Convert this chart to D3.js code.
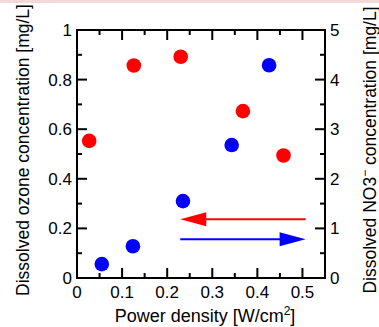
<!DOCTYPE html>
<html>
<head>
<meta charset="utf-8">
<script src="https://cdn.jsdelivr.net/npm/d3@7"></script>
<style>
  body { margin: 0; background: #fff; }
  svg { display: block; font-family: "Liberation Sans", Arial, sans-serif; }
</style>
</head>
<body>
<div id="chart"></div>
<script>
const width = 379;
const height = 327;

// ozone (left axis, mg/L) vs power density
const ozonePower = [0.027, 0.126, 0.230, 0.368, 0.458];
const ozoneConc = [0.553, 0.857, 0.892, 0.673, 0.494];
// NO3- (right axis, mg/L) vs power density
const no3Power = [0.055, 0.124, 0.235, 0.343, 0.426];
const no3Conc = [0.28, 0.64, 1.55, 2.68, 4.29];

const xTicks = [0, 0.1, 0.2, 0.3, 0.4, 0.5];
const yLeftTicks = [0, 0.2, 0.4, 0.6, 0.8, 1];
const yRightTicks = [0, 1, 2, 3, 4, 5];

// arrows: [fromX, toX, y on left axis]
const redArrow = [0.507, 0.229, 0.237];
const blueArrow = [0.229, 0.507, 0.156];

const margin = { top: 30, right: 54, bottom: 49, left: 77 };

const svg = d3.select("#chart").append("svg")
    .attr("width", width)
    .attr("height", height);

// thin pink strip along the top edge
svg.append("rect")
    .attr("x", 0).attr("y", 0)
    .attr("width", width).attr("height", 3)
    .attr("fill", "#f2dada");

const x = d3.scaleLinear()
    .domain([0, 0.55])
    .range([margin.left, width - margin.right]);

const yL = d3.scaleLinear()
    .domain([0, 1])
    .range([height - margin.bottom, margin.top]);

const yR = d3.scaleLinear()
    .domain([0, 5])
    .range([height - margin.bottom, margin.top]);

const fontSize = 17;
const titleSize = 17.5;

// ticks (inward)
function tickLines(g, scale, major, minor, orient) {
    const len = 10, minorLen = 5;
    const all = [...major.map(v => [v, len]), ...minor.map(v => [v, minorLen])];
    all.forEach(([v, l]) => {
        const p = scale(v);
        if (orient === "bottom") g.append("line").attr("x1", p).attr("x2", p).attr("y1", yL(0)).attr("y2", yL(0) - l);
        if (orient === "top") g.append("line").attr("x1", p).attr("x2", p).attr("y1", yL(1)).attr("y2", yL(1) + l);
        if (orient === "left") g.append("line").attr("x1", x(0)).attr("x2", x(0) + l).attr("y1", p).attr("y2", p);
        if (orient === "right") g.append("line").attr("x1", x(0.55)).attr("x2", x(0.55) - l).attr("y1", p).attr("y2", p);
    });
}

const ticks = svg.append("g").attr("stroke", "#000").attr("stroke-width", 2);
tickLines(ticks, x, xTicks.slice(1), [0.05, 0.15, 0.25, 0.35, 0.45], "bottom");
tickLines(ticks, x, xTicks.slice(1), [0.05, 0.15, 0.25, 0.35, 0.45], "top");
tickLines(ticks, yL, yLeftTicks.slice(1, -1), [0.1, 0.3, 0.5, 0.7, 0.9], "left");
tickLines(ticks, yR, yRightTicks.slice(1, -1), [0.5, 1.5, 2.5, 3.5, 4.5], "right");

// frame
svg.append("rect")
    .attr("x", x(0)).attr("y", yL(1))
    .attr("width", x(0.55) - x(0))
    .attr("height", yL(0) - yL(1))
    .attr("fill", "none")
    .attr("stroke", "#000")
    .attr("stroke-width", 2);

// tick labels
svg.append("g").selectAll("text")
    .data(xTicks).join("text")
    .attr("x", d => x(d))
    .attr("y", yL(0) + 20)
    .attr("text-anchor", "middle")
    .attr("font-size", fontSize)
    .text(d => d3.format("")(d));

svg.append("g").selectAll("text")
    .data(yLeftTicks).join("text")
    .attr("x", x(0) - 5)
    .attr("y", d => yL(d) + 6)
    .attr("text-anchor", "end")
    .attr("font-size", fontSize)
    .text(d => d3.format("")(d));

svg.append("g").selectAll("text")
    .data(yRightTicks).join("text")
    .attr("x", x(0.55) + 5)
    .attr("y", d => yR(d) + 6)
    .attr("text-anchor", "start")
    .attr("font-size", fontSize)
    .text(d => d);

// axis titles
const xt = svg.append("text")
    .attr("x", (x(0) + x(0.55)) / 2 + 4)
    .attr("y", 322)
    .attr("text-anchor", "middle")
    .attr("font-size", 18)
    .text("Power density [W/cm");
xt.append("tspan").attr("font-size", 12).attr("dy", -7).text("2");
xt.append("tspan").attr("dy", 7).text("]");

svg.append("text")
    .attr("transform", `translate(29,150) rotate(-90)`)
    .attr("text-anchor", "middle")
    .attr("font-size", titleSize)
    .text("Dissolved ozone concentration [mg/L]");

const rt = svg.append("text")
    .attr("transform", `translate(376,150) rotate(-90)`)
    .attr("text-anchor", "middle")
    .attr("font-size", titleSize)
    .text("Dissolved NO3");
rt.append("tspan").attr("font-size", 12).attr("dy", -7).text("−");
rt.append("tspan").attr("dy", 7).text(" concentration [mg/L]");

// points
svg.append("g").selectAll("circle")
    .data(ozonePower.map((p, i) => [p, ozoneConc[i]]))
    .join("circle")
    .attr("cx", d => x(d[0]))
    .attr("cy", d => yL(d[1]))
    .attr("r", 7.3)
    .attr("fill", "#ff0000");

svg.append("g").selectAll("circle")
    .data(no3Power.map((p, i) => [p, no3Conc[i]]))
    .join("circle")
    .attr("cx", d => x(d[0]))
    .attr("cy", d => yR(d[1]))
    .attr("r", 7.3)
    .attr("fill", "#0000ff");

// arrows
function arrow(a, color) {
    const [x0, x1, yv] = a;
    const px0 = x(x0), px1 = x(x1), py = yL(yv);
    const dir = Math.sign(px1 - px0);
    const headLen = 26, headHalf = 7;
    svg.append("line")
        .attr("x1", px0).attr("x2", px1 - dir * headLen * 0.8)
        .attr("y1", py).attr("y2", py)
        .attr("stroke", color).attr("stroke-width", 2);
    svg.append("path")
        .attr("d", d3.line()([[px1, py], [px1 - dir * headLen, py - headHalf], [px1 - dir * headLen, py + headHalf]]) + "Z")
        .attr("fill", color);
}
arrow(redArrow, "#ff0000");
arrow(blueArrow, "#0000ff");
</script>
</body>
</html>
